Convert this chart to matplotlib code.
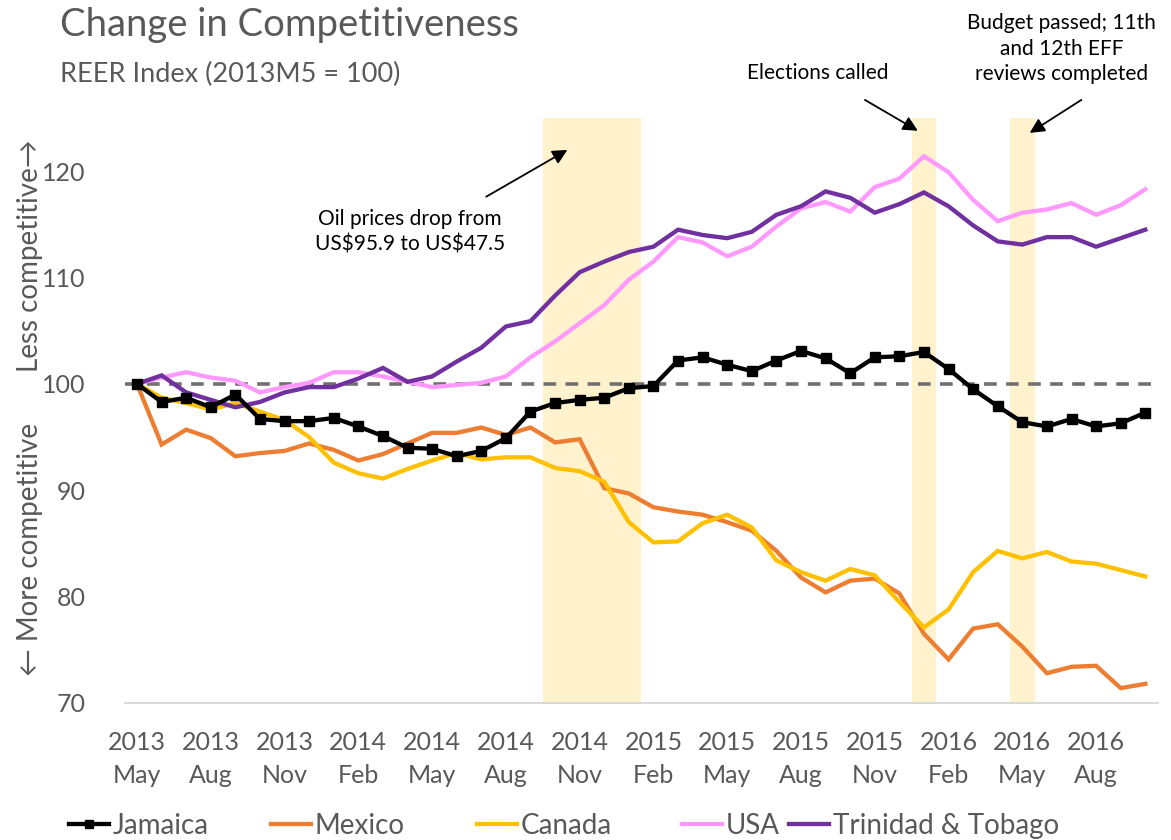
import matplotlib
matplotlib.use("Agg")
import matplotlib.pyplot as plt
import numpy as np

plt.rcParams['font.family'] = ['Lato', 'DejaVu Sans']

# ---- data ----
months = ["May", "Jun", "Jul", "Aug", "Sep", "Oct", "Nov", "Dec", "Jan", "Feb", "Mar", "Apr"]
start_year = 2013
n_points = 42
tick_step = 3

jamaica = [100.0, 98.3, 98.7, 97.8, 99.0, 96.7, 96.5, 96.5, 96.8, 96.0,
           95.1, 94.0, 93.9, 93.2, 93.7, 94.9, 97.4, 98.2, 98.5, 98.7,
           99.6, 99.8, 102.2, 102.5, 101.8, 101.2, 102.2, 103.1, 102.4, 101.0,
           102.5, 102.6, 103.0, 101.4, 99.5, 97.9, 96.4, 96.0, 96.7, 96.0,
           96.3, 97.3]
mexico = [100.0, 94.3, 95.7, 94.9, 93.2, 93.5, 93.7, 94.4, 93.8, 92.8,
          93.4, 94.4, 95.4, 95.4, 95.9, 95.2, 95.9, 94.5, 94.8, 90.2,
          89.7, 88.4, 88.0, 87.7, 87.0, 86.2, 84.3, 81.8, 80.4, 81.5,
          81.7, 80.3, 76.5, 74.1, 77.0, 77.4, 75.3, 72.8, 73.4, 73.5,
          71.4, 71.8]
canada = [100.0, 98.7, 98.2, 97.6, 98.2, 97.4, 96.6, 95.0, 92.6, 91.6,
          91.1, 92.0, 92.8, 93.5, 92.9, 93.1, 93.1, 92.1, 91.8, 90.8,
          87.0, 85.1, 85.2, 86.9, 87.7, 86.5, 83.4, 82.3, 81.5, 82.6,
          82.0, 79.5, 77.1, 78.8, 82.3, 84.3, 83.6, 84.2, 83.3, 83.1,
          82.5, 81.9]
usa = [100.0, 100.6, 101.1, 100.6, 100.3, 99.2, 99.7, 100.1, 101.1, 101.1,
       100.7, 100.2, 99.7, 99.9, 100.1, 100.7, 102.5, 104.0, 105.7, 107.4,
       109.8, 111.5, 113.8, 113.3, 112.0, 112.9, 114.8, 116.5, 117.1, 116.2,
       118.5, 119.3, 121.4, 119.9, 117.3, 115.3, 116.1, 116.4, 117.0, 115.9,
       116.8, 118.3]
trinidad = [100.0, 100.8, 99.2, 98.5, 97.8, 98.3, 99.2, 99.7, 99.7, 100.5,
            101.5, 100.2, 100.7, 102.1, 103.4, 105.4, 105.9, 108.3, 110.5, 111.5,
            112.4, 112.9, 114.5, 114.0, 113.7, 114.3, 115.9, 116.7, 118.1, 117.5,
            116.1, 116.9, 118.0, 116.7, 114.9, 113.4, 113.1, 113.8, 113.8, 112.9,
            113.7, 114.5]

series_names = ["Jamaica", "Mexico", "Canada", "USA", "Trinidad & Tobago"]
series_values = [jamaica, mexico, canada, usa, trinidad]
series_colors = ["#000000", "#ED7D31", "#FFC000", "#FF99FF", "#7030A0"]

# shaded event windows (month indices, May 2013 = 0)
bands = [(16.5, 20.5), (31.5, 32.5), (35.5, 36.5)]
baseline = 100

# ---- labels ----
labels = []
for i in range(n_points):
    m = months[i % 12]
    y = start_year + (i + 4) // 12
    labels.append(f"{y}\n{m}")

x = np.arange(n_points)
W, H = 1171, 840
fig = plt.figure(figsize=(W / 100, H / 100), dpi=100)
ax = fig.add_axes([124.7 / W, 1 - 703 / H, (1157.6 - 124.7) / W, (703 - 118) / H])

grey = "#595959"
for a, b in bands:
    ax.axvspan(a, b, color="#FFF2CC", lw=0, zorder=0)

ax.axhline(baseline, color="#707070", lw=2.6, ls=(0, (3.5, 2.6)), zorder=1)

for name, vals, col in zip(series_names, series_values, series_colors):
    kw = dict(color=col, lw=3.1, zorder=3, label=name, solid_joinstyle='miter')
    if name == "Jamaica":
        kw.update(marker="s", markersize=7.5, zorder=4)
    ax.plot(x, vals, **kw)

ax.set_xlim(-0.5, n_points - 0.5)
ax.set_ylim(70, 125)
ax.set_yticks([70, 80, 90, 100, 110, 120])
ax.set_xticks(x[::tick_step])
ax.set_xticklabels(labels[::tick_step], linespacing=1.55)
ax.tick_params(axis="both", length=0, labelsize=18, labelcolor=grey)
ax.tick_params(axis="x", pad=20)
ax.tick_params(axis="y", pad=28)
for s in ["top", "right", "left"]:
    ax.spines[s].set_visible(False)
ax.spines["bottom"].set_color("#D9D9D9")
ax.spines["bottom"].set_linewidth(1.5)

# titles
fig.text(60 / W, 1 - 25 / H, "Change in Competitiveness", fontsize=27.5, color=grey, va="center")
fig.text(60 / W, 1 - 74 / H, "REER Index (2013M5 = 100)", fontsize=19.5, color=grey, va="center")

# y axis labels
fig.text(30 / W, 1 - 256 / H, "Less competitive\u2192", rotation=90, fontsize=20,
         color=grey, va="center", ha="center", family=['Lato', 'DejaVu Sans'])
fig.text(30 / W, 1 - 549 / H, "\u2190 More competitive", rotation=90, fontsize=20,
         color=grey, va="center", ha="center", family=['Lato', 'DejaVu Sans'])

# annotations
arrowprops = dict(arrowstyle="-|>", color="black", lw=1.3, mutation_scale=22,
                  shrinkA=0, shrinkB=0)
ax.text(11.1, 114.3, "Oil prices drop from\nUS\\$95.9 to US\\$47.5", fontsize=15,
        ha="center", va="center", linespacing=1.35, color="black")
ax.annotate("", xy=(17.5, 122.0), xytext=(14.2, 117.6), arrowprops=arrowprops,
            annotation_clip=False)
ax.text(27.7, 129.2, "Elections called", fontsize=15, ha="center", va="center",
        color="black", clip_on=False)
ax.annotate("", xy=(31.75, 123.8), xytext=(29.6, 126.7), arrowprops=arrowprops,
            annotation_clip=False)
ax.text(37.6, 131.5, "Budget passed; 11th\nand 12th EFF\nreviews completed", fontsize=15,
        ha="center", va="center", linespacing=1.35, color="black", clip_on=False)
ax.annotate("", xy=(36.3, 123.6), xytext=(38.4, 126.7), arrowprops=arrowprops,
            annotation_clip=False)

# legend: one entry per slot
handles, hlabels = ax.get_legend_handles_labels()
legend_x = [69, 271, 477, 682, 789]
for h, l, lx in zip(handles, hlabels, legend_x):
    fig.legend([h], [l], loc="center left", bbox_to_anchor=(lx / W, 1 - 826 / H),
               frameon=False, fontsize=20, labelcolor=grey, handlelength=1.45,
               handletextpad=0.12, borderpad=0, borderaxespad=0, markerscale=0.8)

fig.savefig("out.png", dpi=100)
